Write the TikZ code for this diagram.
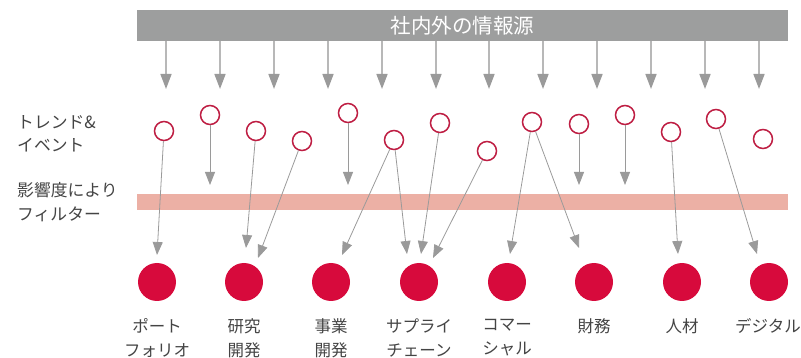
\documentclass[tikz,border=0pt]{standalone}
\usepackage{fontspec}
\newfontfamily\jp{Noto Sans CJK JP}
\usetikzlibrary{arrows.meta}
\definecolor{bargray}{HTML}{9D9E9E}
\definecolor{filterpink}{HTML}{ECB0A5}
\definecolor{ringred}{HTML}{BE1E43}
\definecolor{dotred}{HTML}{D70A3C}
\definecolor{txt}{HTML}{444444}
\definecolor{linegray}{HTML}{9A9A9A}
\definecolor{stemgray}{HTML}{B8B8B8}
\tikzset{
  ring/.style={circle,draw=ringred,line width=1.5pt,fill=white,minimum size=19pt,inner sep=0pt},
  dot/.style={circle,fill=dotred,minimum size=38pt,inner sep=0pt},
  lab/.style={text=txt,font=\jp\fontsize{16.5}{24}\selectfont,align=center,inner sep=0pt},
  side/.style={text=txt,font=\jp\fontsize{16.8}{23.5}\selectfont,align=left,inner sep=0pt,anchor=west},
  feed/.style={draw=stemgray,line width=1.6pt,-{Triangle[width=11pt,length=15pt,color=linegray,fill=linegray]}},
  link/.style={draw=linegray,line width=0.8pt,-{Triangle[width=10pt,length=13pt,color=linegray,fill=linegray]}},
}
\begin{document}
\begin{tikzpicture}[x=1pt,y=-1pt]
\useasboundingbox (0,0) rectangle (801,358);
% source bar
\node[fill=bargray,minimum width=651pt,minimum height=31pt,inner sep=0pt,anchor=north west,
      text=white,font=\jp\fontsize{20.5}{21}\selectfont] (src) at (137,10) {社内外の情報源};
% filter bar
\node[fill=filterpink,minimum width=651pt,minimum height=16pt,inner sep=0pt,anchor=north west] (flt) at (137,194) {};
% top feed arrows
\foreach \i/\x in {1/166,2/220,3/274,4/328,5/382,6/436,7/489,8/543,9/597,10/651,11/705,12/759}{
  \coordinate (t\i) at (\x,89);
  \draw[feed] (src.south -| t\i) -- (t\i);
}
% side labels
\node[side] (l1) at (17,134) {トレンド\&\\イベント};
\node[side] (l2) at (17,202) {影響度により\\フィルター};
% trend rings
\foreach \i/\x/\y in {1/164/131,2/210/115,3/256/131,4/302/141,5/348/113,6/394/140,7/440/123,8/487/151,9/532/122,10/579/124,11/625/115,12/671/132,13/716/119,14/763/139}{
  \node[ring] (e\i) at (\x,\y) {};
}
% domain dots
\foreach \i/\x in {1/157,2/244,3/331,4/419,5/507,6/594,7/682,8/769}{
  \node[dot] (f\i) at (\x,282) {};
}
% labels
\node[lab] (n1) at (157,338) {ポート\\フォリオ};
\node[lab] (n2) at (244,338) {研究\\開発};
\node[lab] (n3) at (331,338) {事業\\開発};
\node[lab] (n4) at (419,338) {サプライ\\チェーン};
\node[lab] (n5) at (507,338) {コマー\\シャル};
\node[lab] (n6) at (594,326) {財務};
\node[lab] (n7) at (682,326) {人材};
\node[lab] (n8) at (768,326) {デジタル};
% arrows stopped at the filter
\foreach \i in {2,5,10,11}{
  \coordinate (b\i) at (e\i |- 0,185);
  \draw[link] (e\i) -- (b\i);
}
% arrows passing the filter
\coordinate (p1) at (157,255);
\coordinate (p2) at (246,248);
\coordinate (p3) at (258,258);
\coordinate (p4) at (342,255);
\coordinate (p5) at (407,254);
\coordinate (p6) at (421,254);
\coordinate (p7) at (433,258);
\coordinate (p8) at (510,254);
\coordinate (p9) at (579,248);
\coordinate (p10) at (678,254);
\coordinate (p11) at (757,254);
\draw[link] (e1) -- (p1);
\draw[link] (e3) -- (p2);
\draw[link] (e4) -- (p3);
\draw[link] (e6) -- (p4);
\draw[link] (e6) -- (p5);
\draw[link] (e7) -- (p6);
\draw[link] (e8) -- (p7);
\draw[link] (e9) -- (p8);
\draw[link] (e9) -- (p9);
\draw[link] (e12) -- (p10);
\draw[link] (e13) -- (p11);
\end{tikzpicture}
\end{document}
